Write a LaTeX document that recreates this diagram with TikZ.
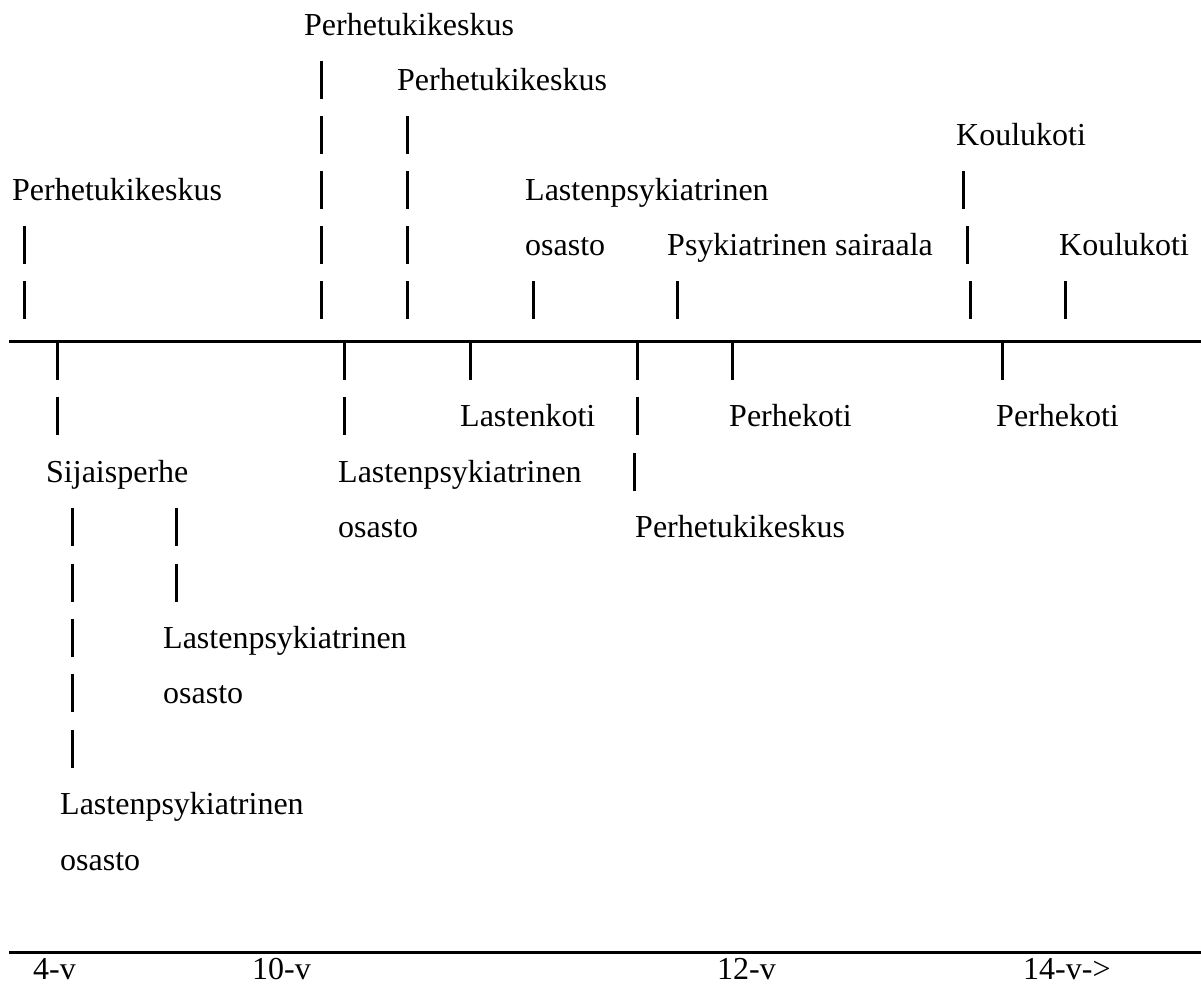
\documentclass[tikz,border=0pt]{standalone}
\usepackage{fontspec}
\setmainfont{Liberation Serif}
\begin{document}
\begin{tikzpicture}[x=1pt,y=-1pt,
  lbl/.style={anchor=base west,inner sep=0pt,font=\fontsize{32}{38}\selectfont},
  barline/.style={line width=3pt},
  axis/.style={line width=3pt}]
\useasboundingbox (0,0) rectangle (1201,985);
\newcommand\vb[2]{\draw[barline] ({#1},{#2-29}) -- ({#1},{#2+9});}
% top rows baselines: 35,90,145,200,255,310
\node[lbl] (p1) at (304,35) {Perhetukikeskus};
\foreach \y in {90,145,200,255,310} {\vb{321}{\y}}
\node[lbl] (p2) at (397,90) {Perhetukikeskus};
\foreach \y in {145,200,255,310} {\vb{407}{\y}}
\node[lbl] (p0) at (12,200) {Perhetukikeskus};
\foreach \y in {255,310} {\vb{24}{\y}}
\node[lbl] (lp1) at (525,200) {Lastenpsykiatrinen};
\node[lbl] (lo1) at (525,255) {osasto};
\vb{533}{310}
\node[lbl] (ps) at (667,255) {Psykiatrinen sairaala};
\vb{677}{310}
\node[lbl] (k1) at (956,145) {Koulukoti};
\vb{963}{200}
\vb{967}{255}
\vb{970}{310}
\node[lbl] (k2) at (1059,255) {Koulukoti};
\vb{1065}{310}
% main line
\coordinate (mL) at (9,341);
\coordinate (mR) at (1201,341);
\draw[axis] (mL) -- (mR);
% lower rows baselines: 371,426,482,537,593,648,703,759,814,870
\foreach \y in {371,426} {\vb{57}{\y}}
\node[lbl] (sij) at (46,482) {Sijaisperhe};
\foreach \y in {537,593,648,703,759} {\vb{72}{\y}}
\node[lbl] (lp4) at (60,814) {Lastenpsykiatrinen};
\node[lbl] (lo4) at (60,870) {osasto};
\foreach \y in {537,593} {\vb{176}{\y}}
\node[lbl] (lp3) at (163,648) {Lastenpsykiatrinen};
\node[lbl] (lo3) at (163,703) {osasto};
\foreach \y in {371,426} {\vb{344}{\y}}
\node[lbl] (lp2) at (338,482) {Lastenpsykiatrinen};
\node[lbl] (lo2) at (338,537) {osasto};
\vb{470}{371}
\node[lbl] (lk) at (460,426) {Lastenkoti};
\vb{637}{371}
\vb{637}{426}
\vb{634}{482}
\node[lbl] (p3) at (635,537) {Perhetukikeskus};
\vb{732}{371}
\node[lbl] (ph1) at (729,426) {Perhekoti};
\vb{1002}{371}
\node[lbl] (ph2) at (996,426) {Perhekoti};
% bottom axis
\coordinate (bL) at (9,952);
\coordinate (bR) at (1201,952);
\draw[axis] (bL) -- (bR);
\node[lbl] (a4) at (33,979) {4-v};
\node[lbl] (a10) at (252,979) {10-v};
\node[lbl] (a12) at (717,979) {12-v};
\node[lbl] (a14) at (1023,979) {14-v->};
\end{tikzpicture}
\end{document}
